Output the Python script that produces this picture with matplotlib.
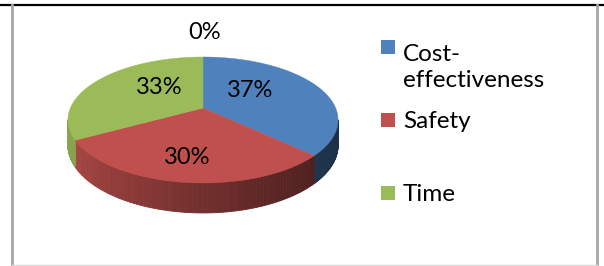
import numpy as np
import matplotlib
matplotlib.use('Agg')
import matplotlib.pyplot as plt
from matplotlib.patches import Polygon, Rectangle
from matplotlib.collections import PolyCollection
from matplotlib.lines import Line2D

plt.rcParams['font.family'] = ['Lato', 'DejaVu Sans']

# data
categories = ['Cost-effectiveness', 'Safety', 'Time']
shares = [37, 30, 33, 0]          # last slice is empty, shows only "0%"
colors = ['#4F81BD', '#C0504D', '#9BBB59', '#8064A2']

# 3D pie geometry (pixel space, y down)
CX, CY = 203, 108        # projected pie centre
A, B = 132.6, 60.7       # horizontal / depth scale
K = 0.19                 # perspective
DEPTH = 24.3

def proj(theta, r=1.0, drop=0.0):
    X = r * np.cos(theta)
    Z = r * np.sin(theta)
    den = 1 + K * Z
    return CX + A * X / den, CY - B * Z / den + drop / den

def shade(rgb, x):
    t = np.clip((x - 70) / (336 - 70), 0, 1)
    f = 0.88 - 0.5 * t ** 0.8
    return tuple(np.array(rgb) * f)

fig = plt.figure(figsize=(6.04, 2.66), dpi=100)
ax = fig.add_axes([0, 0, 1, 1])
ax.set_xlim(0, 604)
ax.set_ylim(266, 0)
ax.axis('off')

bounds = 90 - np.concatenate([[0], np.cumsum(shares)]) / sum(shares) * 360
vis_lo, vis_hi = -180 + np.degrees(np.arcsin(K)), -np.degrees(np.arcsin(K))

# side walls
for i in range(len(shares)):
    a0, a1 = bounds[i], bounds[i + 1]
    hi, lo = min(a0, vis_hi), max(a1, vis_lo)
    if hi <= lo:
        continue
    th = np.radians(np.linspace(hi, lo, 80))
    xt, yt = proj(th)
    xb, yb = proj(th, drop=DEPTH)
    rgb = matplotlib.colors.to_rgb(colors[i])
    quads, cols = [], []
    for j in range(len(th) - 1):
        quads.append([(xt[j], yt[j]), (xt[j + 1], yt[j + 1]),
                      (xb[j + 1], yb[j + 1]), (xb[j], yb[j])])
        cols.append(shade(rgb, (xt[j] + xt[j + 1]) / 2))
    ax.add_collection(PolyCollection(quads, facecolors=cols, edgecolors=cols,
                                     linewidths=0.6))

# top faces
for i in range(len(shares)):
    if shares[i] == 0:
        continue
    th = np.radians(np.linspace(bounds[i], bounds[i + 1], 120))
    xs, ys = proj(th)
    pts = [(CX, CY)] + list(zip(xs, ys))
    ax.add_patch(Polygon(pts, closed=True, facecolor=colors[i],
                         edgecolor=colors[i], linewidth=0.3))

# percent labels
label_r = [0.4, 0.81, 0.4]
for i in range(3):
    mid = np.radians((bounds[i] + bounds[i + 1]) / 2)
    x, y = proj(mid, r=label_r[i])
    ax.text(x, y - 8.5, f'{shares[i]}%', ha='center', va='center',
            fontsize=17, color='black')
x0, y0 = proj(np.radians(bounds[3]))
ax.text(x0 + 2, y0 - 24, f'{shares[3]}%', ha='center', va='center',
        fontsize=17, color='black')

# legend (entries spread evenly, long name wrapped at the hyphen)
for i, name in enumerate(categories):
    ax.add_patch(Rectangle((381, 40 + 73 * i), 14, 14, facecolor=colors[i],
                           edgecolor='none'))
    lines = name.replace('-', '-\n')
    n = lines.count('\n')
    ax.text(403, 55 + 73 * i + 32 * n, lines, ha='left',
            va='baseline', fontsize=17.5, linespacing=1.3, color='black')

# frame lines
fig.add_artist(Line2D([0, 1], [1 - 4.5 / 266] * 2, color='black', lw=1.6))
for xp in (11.5, 597):
    fig.add_artist(Line2D([xp / 604] * 2, [0, 1 - 5 / 266], color='#A6A6A6', lw=2))
fig.add_artist(Line2D([12 / 604, 597 / 604], [0.8 / 266] * 2, color='#D9D9D9', lw=1))

fig.savefig('out.png', dpi=100)
